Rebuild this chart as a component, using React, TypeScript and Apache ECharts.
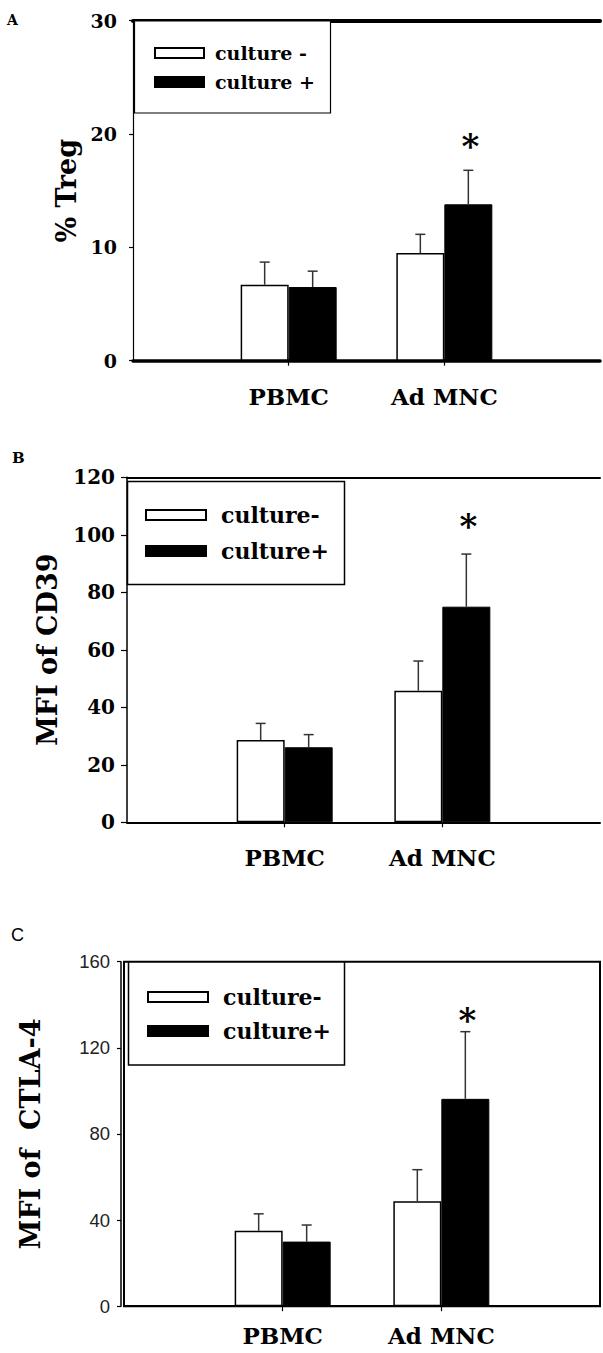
import React, { useEffect, useRef } from "react";
import * as echarts from "echarts";

// Shared categories (empty end slots frame the two groups)
const categories = ["", "PBMC", "Ad MNC", ""];

// Panel A: % Treg
const tregMinus = [null, 6.7, 9.5, null];
const tregMinusErr = [null, 2.0, 1.65, null];
const tregPlus = [null, 6.5, 13.8, null];
const tregPlusErr = [null, 1.4, 3.0, null];
const tregSig = [false, false, true, false];

// Panel B: MFI of CD39
const cd39Minus = [null, 28.6, 45.8, null];
const cd39MinusErr = [null, 5.8, 10.3, null];
const cd39Plus = [null, 26.1, 75.0, null];
const cd39PlusErr = [null, 4.4, 18.3, null];
const cd39Sig = [false, false, true, false];

// Panel C: MFI of CTLA-4
const ctlaMinus = [null, 35.0, 48.7, null];
const ctlaMinusErr = [null, 7.9, 14.7, null];
const ctlaPlus = [null, 30.0, 96.3, null];
const ctlaPlusErr = [null, 7.7, 31.2, null];
const ctlaSig = [false, false, true, false];

const SERIF = "DejaVu Serif";
const SANS = "Liberation Sans";
const BAR_W = 48;

function errData(vals: (number | null)[], errs: (number | null)[], sig: boolean[]) {
  const out: number[][] = [];
  vals.forEach((v, i) => {
    if (v != null) out.push([i, v, errs[i] as number, sig[i] ? 1 : 0]);
  });
  return out;
}

function barData(vals: (number | null)[]) {
  return vals.map((v) => (v == null ? "-" : v));
}

function makeErrSeries(
  name: string,
  gridIdx: number,
  data: number[][],
  offset: number,
  starGap: number,
  starSize: number
) {
  return {
    type: "custom",
    name: name + " err",
    xAxisIndex: gridIdx * 2,
    yAxisIndex: gridIdx * 2,
    z: 5,
    encode: { x: 0, y: 1 },
    data,
    renderItem: (params: any, api: any) => {
      const idx = api.value(0);
      const v = api.value(1);
      const e = api.value(2);
      const s = api.value(3);
      const base = api.coord([idx, v]);
      const top = api.coord([idx, v + e]);
      const x = base[0] + offset;
      const children: any[] = [
        {
          type: "line",
          shape: { x1: x, y1: base[1], x2: x, y2: top[1] },
          style: { stroke: "#333", lineWidth: 1.5 },
        },
        {
          type: "line",
          shape: { x1: x - 5, y1: top[1], x2: x + 5, y2: top[1] },
          style: { stroke: "#333", lineWidth: 1.5 },
        },
      ];
      if (s) {
        children.push({
          type: "text",
          x: x + 2,
          y: top[1] - starGap,
          style: {
            text: "*",
            font: `bold ${starSize}px '${SERIF}'`,
            fill: "#000",
            textAlign: "center",
            textVerticalAlign: "middle",
          },
        });
      }
      return { type: "group", children };
    },
  };
}

export default function App() {
  const ref = useRef<HTMLDivElement>(null);

  useEffect(() => {
    if (!ref.current) return;
    const chart = echarts.init(ref.current, undefined, { renderer: "svg" });

    const tickOnGroups = (index: number) => index === 1 || index === 2;

    const grids = [
      { left: 133, top: 20.7, width: 474, height: 340 },
      { left: 127, top: 477.3, width: 477, height: 345 },
      {
        left: 124,
        top: 961.7,
        width: 477,
        height: 344.5,
        show: true,
        borderColor: "#000",
        borderWidth: 2,
        backgroundColor: "transparent",
      },
    ];

    const catLabel = (size: number, margin: number) => ({
      interval: 0,
      margin,
      color: "#000",
      fontFamily: SERIF,
      fontWeight: "bold",
      fontSize: size,
    });

    const xAxis: any[] = [];
    const bottomWidths = [3.5, 2, 2];
    const topWidths = [4, 2, 0];
    const labelMargins = [24, 24, 18];
    for (let g = 0; g < 3; g++) {
      xAxis.push({
        type: "category",
        gridIndex: g,
        data: categories,
        boundaryGap: false,
        axisLine: { show: true, onZero: false, lineStyle: { color: "#000", width: bottomWidths[g] } },
        axisTick: {
          show: true,
          interval: tickOnGroups,
          length: 5,
          lineStyle: { color: "#000", width: 1.2 },
        },
        axisLabel: catLabel(23, labelMargins[g]),
        splitLine: { show: false },
      });
      xAxis.push({
        type: "category",
        gridIndex: g,
        position: "top",
        data: categories,
        boundaryGap: false,
        axisLine: {
          show: topWidths[g] > 0,
          onZero: false,
          lineStyle: { color: "#000", width: topWidths[g] },
        },
        axisTick: { show: false },
        axisLabel: { show: false },
        splitLine: { show: false },
      });
    }

    const yAxis: any[] = [
      {
        type: "value",
        gridIndex: 0,
        min: 0,
        max: 30,
        interval: 10,
        name: "% Treg",
        nameLocation: "middle",
        nameGap: 52,
        nameTextStyle: { fontFamily: SERIF, fontWeight: "bold", fontSize: 27, color: "#000" },
        axisLine: { show: true, onZero: false, lineStyle: { color: "#000", width: 1.2 } },
        axisTick: { show: true, length: 4, lineStyle: { color: "#000", width: 1.2 } },
        axisLabel: { margin: 16, color: "#000", fontFamily: SERIF, fontWeight: "bold", fontSize: 19 },
        splitLine: { show: false },
      },
      {
        type: "value",
        gridIndex: 0,
        position: "right",
        min: 0,
        max: 30,
        interval: 10,
        axisLine: { show: false },
        axisTick: { show: false },
        axisLabel: { show: false },
        splitLine: { show: false },
      },
      {
        type: "value",
        gridIndex: 1,
        min: 0,
        max: 120,
        interval: 20,
        name: "MFI of CD39",
        nameLocation: "middle",
        nameGap: 66,
        nameTextStyle: { fontFamily: SERIF, fontWeight: "bold", fontSize: 27, color: "#000" },
        axisLine: { show: true, onZero: false, lineStyle: { color: "#000", width: 1.5 } },
        axisTick: { show: true, length: 6, lineStyle: { color: "#000", width: 1.2 } },
        axisLabel: { margin: 12, color: "#000", fontFamily: SERIF, fontWeight: "bold", fontSize: 20 },
        splitLine: { show: false },
      },
      {
        type: "value",
        gridIndex: 1,
        position: "right",
        min: 0,
        max: 120,
        interval: 20,
        axisLine: { show: false },
        axisTick: { show: false },
        axisLabel: { show: false },
        splitLine: { show: false },
      },
      {
        type: "value",
        gridIndex: 2,
        min: 0,
        max: 160,
        interval: 40,
        offset: 3,
        name: "MFI of  CTLA-4",
        nameLocation: "middle",
        nameGap: 77,
        nameTextStyle: { fontFamily: SERIF, fontWeight: "bold", fontSize: 27, color: "#000" },
        axisLine: { show: true, onZero: false, lineStyle: { color: "#000", width: 1.5 } },
        axisTick: { show: true, length: 4, lineStyle: { color: "#000", width: 1.2 } },
        axisLabel: { margin: 11, color: "#222", fontFamily: SANS, fontSize: 18.5 },
        splitLine: { show: false },
      },
      {
        type: "value",
        gridIndex: 2,
        position: "right",
        min: 0,
        max: 160,
        interval: 40,
        axisLine: { show: false },
        axisTick: { show: false },
        axisLabel: { show: false },
        splitLine: { show: false },
      },
    ];

    const whiteStyle = { color: "#fff", borderColor: "#000", borderWidth: 1.5 };
    const blackStyle = { color: "#000", borderColor: "#000", borderWidth: 1 };

    const panels = [
      { minus: "culture -", plus: "culture +", m: tregMinus, me: tregMinusErr, p: tregPlus, pe: tregPlusErr, sig: tregSig, starGap: 24, star: 34 },
      { minus: "culture-", plus: "culture+", m: cd39Minus, me: cd39MinusErr, p: cd39Plus, pe: cd39PlusErr, sig: cd39Sig, starGap: 28, star: 34 },
      { minus: "culture-", plus: "culture+", m: ctlaMinus, me: ctlaMinusErr, p: ctlaPlus, pe: ctlaPlusErr, sig: ctlaSig, starGap: 12, star: 34 },
    ];

    const series: any[] = [];
    panels.forEach((pn, g) => {
      series.push({
        type: "bar",
        name: pn.minus,
        xAxisIndex: g * 2,
        yAxisIndex: g * 2,
        barWidth: BAR_W,
        barGap: "0%",
        itemStyle: whiteStyle,
        data: barData(pn.m),
      });
      series.push({
        type: "bar",
        name: pn.plus,
        xAxisIndex: g * 2,
        yAxisIndex: g * 2,
        barWidth: BAR_W,
        barGap: "0%",
        itemStyle: blackStyle,
        data: barData(pn.p),
      });
    });
    panels.forEach((pn, g) => {
      series.push(makeErrSeries(pn.minus, g, errData(pn.m, pn.me, pn.sig.map(() => false)), -BAR_W / 2, pn.starGap, pn.star));
      series.push(makeErrSeries(pn.plus, g, errData(pn.p, pn.pe, pn.sig), BAR_W / 2, pn.starGap, pn.star));
    });

    const legendText = (size: number, lh: number, pad: number) => ({
      fontFamily: SERIF,
      fontWeight: "bold",
      fontSize: size,
      lineHeight: lh,
      color: "#000",
      padding: [0, 0, 0, pad],
    });

    const legend = [
      {
        data: ["culture -", "culture +"],
        orient: "vertical",
        left: 154,
        top: 43,
        padding: 0,
        itemWidth: 49,
        itemHeight: 10,
        itemGap: 9,
        icon: "rect",
        selectedMode: false,
        textStyle: legendText(19, 20, 6),
      },
      {
        data: ["culture-", "culture+"],
        orient: "vertical",
        left: 145,
        top: 503,
        padding: 0,
        itemWidth: 60,
        itemHeight: 10,
        itemGap: 12,
        icon: "rect",
        selectedMode: false,
        textStyle: legendText(22, 24, 10),
      },
      {
        data: ["culture-", "culture+"],
        orient: "vertical",
        left: 147,
        top: 985,
        padding: 0,
        itemWidth: 60,
        itemHeight: 10,
        itemGap: 10,
        icon: "rect",
        selectedMode: false,
        textStyle: legendText(22, 24, 10),
      },
    ];

    const graphic = [
      { type: "rect", z: 3, shape: { x: 134.5, y: 21, width: 196, height: 92 }, style: { fill: "#fff", stroke: "#000", lineWidth: 1.2 } },
      { type: "rect", z: 3, shape: { x: 127.5, y: 481.5, width: 217, height: 103 }, style: { fill: "#fff", stroke: "#000", lineWidth: 1.5 } },
      { type: "rect", z: 3, shape: { x: 128.5, y: 962, width: 216, height: 103 }, style: { fill: "#fff", stroke: "#000", lineWidth: 1.5 } },
      { type: "text", x: 7, y: 13, style: { text: "A", font: `bold 14px '${SERIF}'`, fill: "#000" } },
      { type: "text", x: 12, y: 450, style: { text: "B", font: `bold 15px '${SERIF}'`, fill: "#000" } },
      { type: "text", x: 11, y: 926, style: { text: "C", font: `18px '${SANS}'`, fill: "#000" } },
    ];

    chart.setOption({
      animation: false,
      backgroundColor: "#fff",
      grid: grids,
      xAxis,
      yAxis,
      legend,
      graphic,
      series,
    });

    return () => chart.dispose();
  }, []);

  return (
    <div
      ref={ref}
      style={{ position: "absolute", left: 0, top: 0, width: 603, height: 1353 }}
    />
  );
}
